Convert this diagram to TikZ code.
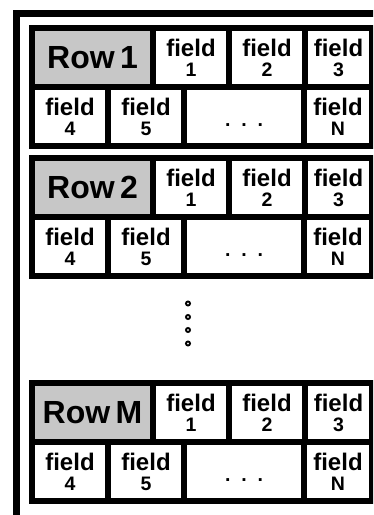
\documentclass[tikz,border=0pt]{standalone}
\usepackage{fontspec}
\setmainfont{Liberation Sans}
\definecolor{headgray}{gray}{0.78}
\newcommand{\fld}[1]{field\\{\fontsize{19.5}{20}\selectfont #1}}
\newcommand{\fdots}{\phantom{field}\\{\fontsize{19.5}{20}\selectfont\raisebox{9pt}{.\ \ .\ \ .}}}

\begin{document}
\begin{tikzpicture}[x=1pt,y=-1pt,
    blockframe/.style={fill=black,inner sep=0pt,minimum width=346pt,minimum height=124pt},
    cell/.style={fill=white,inner sep=0pt,minimum width=70pt,minimum height=53pt,align=center,
      font=\bfseries\fontsize{24}{20}\selectfont},
    headcell/.style={cell,fill=headgray,minimum width=115pt,font=\bfseries\fontsize{32}{32}\selectfont},
    vdot/.style={circle,draw,line width=1.9pt,fill=white,inner sep=0pt,minimum size=4pt}]
    \useasboundingbox (0,0) rectangle (373,515);
    \clip (0,0) rectangle (373,515);

    % outer record frame
    \coordinate (frameBL) at (16.5,520);
    \coordinate (frameTR) at (380,13.5);
    \draw[line width=7pt] (frameBL) |- (frameTR);

    % row 1
    \node[blockframe] (row1) at (202,87) {};
    \node[headcell] (row1h) at (92.5,57.5) {Row\,1};
    \node[cell] (row1f1) at (191,57.5) {\fld{1}};
    \node[cell] (row1f2) at (267,57.5) {\fld{2}};
    \node[cell,minimum width=61pt] (row1f3) at (338.5,57.5) {\fld{3}};
    \node[cell] (row1f4) at (70,116.5) {\fld{4}};
    \node[cell] (row1f5) at (146,116.5) {\fld{5}};
    \node[cell,minimum width=114pt] (row1dots) at (244,116.5) {\fdots};
    \node[cell,minimum width=62pt] (row1fN) at (338,116.5) {\fld{N}};

    % row 2
    \node[blockframe] (row2) at (202,217) {};
    \node[headcell] (row2h) at (92.5,187.5) {Row\,2};
    \node[cell] (row2f1) at (191,187.5) {\fld{1}};
    \node[cell] (row2f2) at (267,187.5) {\fld{2}};
    \node[cell,minimum width=61pt] (row2f3) at (338.5,187.5) {\fld{3}};
    \node[cell] (row2f4) at (70,246.5) {\fld{4}};
    \node[cell] (row2f5) at (146,246.5) {\fld{5}};
    \node[cell,minimum width=114pt] (row2dots) at (244,246.5) {\fdots};
    \node[cell,minimum width=62pt] (row2fN) at (338,246.5) {\fld{N}};

    % vertical ellipsis
    \node[vdot] (v1) at (188,303.5) {};
    \node[vdot] (v2) at (188,317) {};
    \node[vdot] (v3) at (188,330) {};
    \node[vdot] (v4) at (188,343.5) {};

    % row M
    \node[blockframe] (rowM) at (202,442) {};
    \node[headcell] (rowMh) at (92.5,412.5) {Row\,M};
    \node[cell] (rowMf1) at (191,412.5) {\fld{1}};
    \node[cell] (rowMf2) at (267,412.5) {\fld{2}};
    \node[cell,minimum width=61pt] (rowMf3) at (338.5,412.5) {\fld{3}};
    \node[cell] (rowMf4) at (70,471.5) {\fld{4}};
    \node[cell] (rowMf5) at (146,471.5) {\fld{5}};
    \node[cell,minimum width=114pt] (rowMdots) at (244,471.5) {\fdots};
    \node[cell,minimum width=62pt] (rowMfN) at (338,471.5) {\fld{N}};
  \end{tikzpicture}
\end{document}
